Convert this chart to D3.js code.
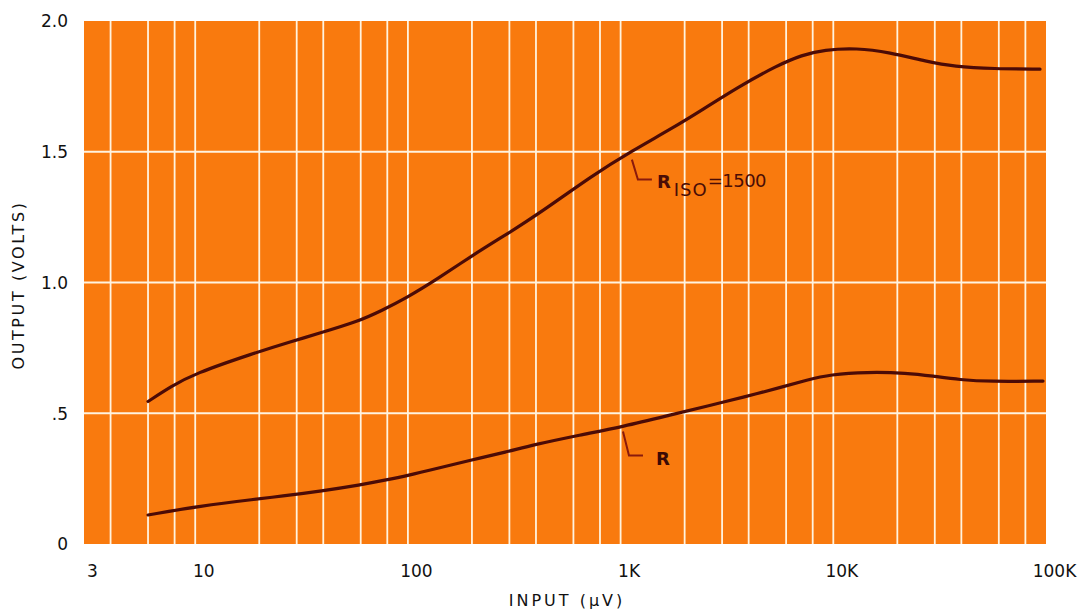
<!DOCTYPE html>
<html>
<head>
<meta charset="utf-8">
<script src="https://cdn.jsdelivr.net/npm/d3@7"></script>
<style>
  html, body { margin: 0; padding: 0; background: #ffffff; }
  svg { display: block; }
  text { font-family: "DejaVu Sans", "Liberation Sans", sans-serif; }
</style>
</head>
<body>
<svg id="chart" width="1092" height="612"></svg>
<script>
// ---- data ----
const xTicks = [3, 10, 100, 1000, 10000, 100000];
const xTickLabels = ["3", "10", "100", "1K", "10K", "100K"];
const yTicks = [0, 0.5, 1.0, 1.5, 2.0];
const yTickLabels = ["0", ".5", "1.0", "1.5", "2.0"];
const xGridValues = [4, 6, 8, 10, 20, 30, 40, 60, 80, 100, 200, 300, 400, 600, 800,
  1000, 2000, 3000, 4000, 6000, 8000, 10000, 20000, 30000, 40000, 60000, 80000];

// curve R_ISO = 1500 : input (µV), output (V)
const rIsoInput = [6, 7.7, 9.8, 18.9, 28.5, 38, 58, 75, 98, 137, 202, 292, 418, 741, 1130,
  1760, 2440, 3525, 5440, 7130, 9040, 12900, 18300, 27600, 36900, 56900, 93700];
const rIsoOutput = [0.545, 0.602, 0.650, 0.730, 0.775, 0.805, 0.850, 0.892, 0.940, 1.012, 1.105,
  1.185, 1.266, 1.411, 1.503, 1.591, 1.662, 1.745, 1.830, 1.870, 1.890, 1.897, 1.880, 1.845,
  1.826, 1.817, 1.816];

// curve R
const rInput = [6, 10.5, 19.5, 25, 39.5, 60, 78, 100, 137, 196, 292, 387, 645, 1026, 1707,
  2630, 3720, 5740, 7520, 9650, 14400, 22200, 29400, 39400, 54600, 96800];
const rOutput = [0.111, 0.145, 0.172, 0.182, 0.203, 0.226, 0.244, 0.262, 0.289, 0.320, 0.352,
  0.379, 0.417, 0.449, 0.493, 0.530, 0.560, 0.600, 0.627, 0.648, 0.658, 0.654, 0.642, 0.628,
  0.621, 0.623];

// annotation anchors (data coordinates of the leader start)
const annIso = { x: 1130, y: 1.47 };
const annR = { x: 1026, y: 0.43 };

// ---- layout ----
const svg = d3.select("#chart");
const pL = 84, pR_ = 1046, pT = 21, pB = 544;

const x = d3.scaleLog().domain([3, 100000]).range([pL, pR_]);
const y = d3.scaleLinear().domain([0, 2]).range([pB, pT]);

const orange = "#f97a0e";
const gridCol = "#fff3df";
const ink = "#4c0b06";

// background
svg.append("rect")
  .attr("x", pL).attr("y", pT)
  .attr("width", pR_ - pL).attr("height", pB - pT)
  .attr("fill", orange);

// vertical grid
svg.append("g").selectAll("line").data(xGridValues).join("line")
  .attr("x1", d => x(d)).attr("x2", d => x(d))
  .attr("y1", pT).attr("y2", pB)
  .attr("stroke", gridCol).attr("stroke-width", 1.8);

// horizontal grid
svg.append("g").selectAll("line").data([0.5, 1.0, 1.5]).join("line")
  .attr("x1", pL).attr("x2", pR_)
  .attr("y1", d => y(d)).attr("y2", d => y(d))
  .attr("stroke", gridCol).attr("stroke-width", 2);

// axes (labels only)
const xAxis = d3.axisBottom(x).tickValues(xTicks)
  .tickFormat((d, i) => xTickLabels[i]).tickSize(0).tickPadding(0);
const gx = svg.append("g").attr("transform", `translate(0,${pB})`).call(xAxis);
gx.select(".domain").remove();
gx.selectAll("text")
  .attr("dy", null).attr("y", 33).attr("dx", 8)
  .attr("fill", "#111").attr("font-size", 17)
  .attr("font-family", "'DejaVu Sans', sans-serif");

const yAxis = d3.axisLeft(y).tickValues(yTicks)
  .tickFormat((d, i) => yTickLabels[i]).tickSize(0).tickPadding(0);
const gy = svg.append("g").attr("transform", `translate(68,0)`).call(yAxis);
gy.select(".domain").remove();
gy.selectAll("text")
  .attr("x", 0).attr("dy", "0.35em")
  .attr("fill", "#111").attr("font-size", 17)
  .attr("font-family", "'DejaVu Sans', sans-serif");

// axis titles
svg.append("text")
  .attr("x", 567).attr("y", 606)
  .attr("text-anchor", "middle")
  .attr("font-size", 16).attr("letter-spacing", 3)
  .attr("fill", "#111")
  .text("INPUT (\u03BCV)");

svg.append("text")
  .attr("transform", "translate(24,285) rotate(-90)")
  .attr("text-anchor", "middle")
  .attr("font-size", 16).attr("letter-spacing", 2.6)
  .attr("fill", "#111")
  .text("OUTPUT (VOLTS)");

// curves
const line = d3.line()
  .x(d => x(d[0])).y(d => y(d[1]))
  .curve(d3.curveBasis);

const series = [
  d3.zip(rIsoInput, rIsoOutput),
  d3.zip(rInput, rOutput)
];
svg.append("g").selectAll("path").data(series).join("path")
  .attr("d", line)
  .attr("fill", "none")
  .attr("stroke", ink)
  .attr("stroke-width", 3.2)
  .attr("stroke-linecap", "round");

// annotations
const leaderCol = "#8a1a0c";
function leader(a, dy, dx) {
  const x0 = x(a.x), y0 = y(a.y);
  svg.append("path")
    .attr("d", `M${x0},${y0} L${x0 + 6},${y0 + dy} L${x0 + 6 + dx},${y0 + dy}`)
    .attr("fill", "none").attr("stroke", leaderCol).attr("stroke-width", 2);
  return [x0 + 6 + dx, y0 + dy];
}
const pIso = leader(annIso, 20, 14);
const tIso = svg.append("text")
  .attr("x", pIso[0] + 5).attr("y", pIso[1] + 8)
  .attr("fill", "#4a0d06").attr("font-size", 18)
  .attr("font-family", "'DejaVu Sans', sans-serif");
tIso.append("tspan").attr("font-weight", "bold").text("R");
tIso.append("tspan").attr("dy", 8).attr("dx", 3).attr("font-size", 18).attr("letter-spacing", 1).text("ISO");
tIso.append("tspan").attr("dy", -9).attr("font-size", 18).attr("letter-spacing", -0.5).text("=1500");

const pRr = leader(annR, 24, 14);
svg.append("text")
  .attr("x", pRr[0] + 13).attr("y", pRr[1] + 9)
  .attr("fill", "#3a0a05").attr("font-size", 18).attr("font-weight", "bold")
  .attr("font-family", "'DejaVu Sans', sans-serif")
  .text("R");
</script>
</body>
</html>
